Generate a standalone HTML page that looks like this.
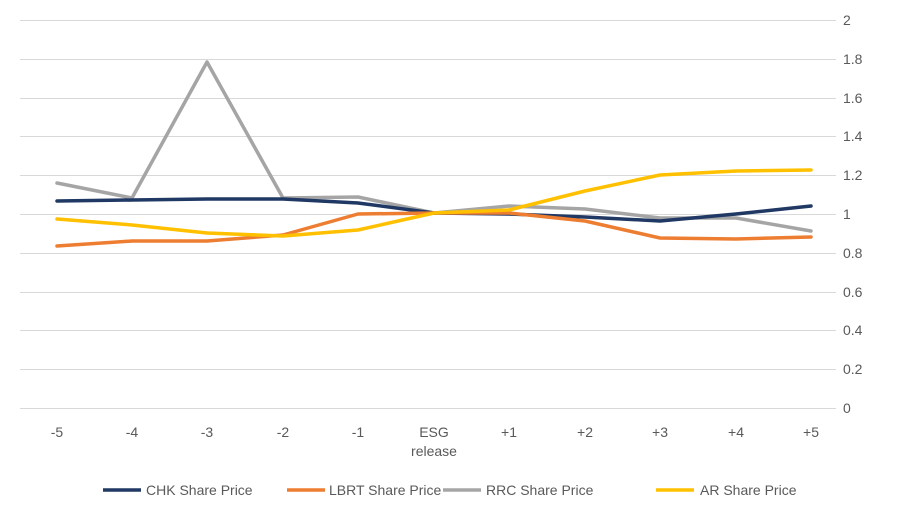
<!DOCTYPE html>
<html><head><meta charset="utf-8"><style>
body{margin:0;background:#fff;}
svg text{font-family:"Liberation Sans",sans-serif;fill:#595959;font-size:14px;}
</style></head><body>
<svg width="899" height="518" xmlns="http://www.w3.org/2000/svg">
<g stroke="#d9d9d9" stroke-width="1">
<line x1="20" x2="836" y1="20.5" y2="20.5"/>
<line x1="20" x2="836" y1="59.5" y2="59.5"/>
<line x1="20" x2="836" y1="98.5" y2="98.5"/>
<line x1="20" x2="836" y1="136.5" y2="136.5"/>
<line x1="20" x2="836" y1="175.5" y2="175.5"/>
<line x1="20" x2="836" y1="214.5" y2="214.5"/>
<line x1="20" x2="836" y1="253.5" y2="253.5"/>
<line x1="20" x2="836" y1="292.5" y2="292.5"/>
<line x1="20" x2="836" y1="330.5" y2="330.5"/>
<line x1="20" x2="836" y1="369.5" y2="369.5"/>
<line x1="20" x2="836" y1="408.5" y2="408.5"/>
</g>
<g text-anchor="start">
<text x="843" y="25">2</text>
<text x="843" y="64">1.8</text>
<text x="843" y="103">1.6</text>
<text x="843" y="141">1.4</text>
<text x="843" y="180">1.2</text>
<text x="843" y="219">1</text>
<text x="843" y="258">0.8</text>
<text x="843" y="297">0.6</text>
<text x="843" y="335">0.4</text>
<text x="843" y="374">0.2</text>
<text x="843" y="413">0</text>
</g>
<g text-anchor="middle">
<text x="57" y="437">-5</text>
<text x="132" y="437">-4</text>
<text x="207" y="437">-3</text>
<text x="283" y="437">-2</text>
<text x="358" y="437">-1</text>
<text x="434" y="437">ESG</text>
<text x="434" y="456">release</text>
<text x="509" y="437">+1</text>
<text x="585" y="437">+2</text>
<text x="660" y="437">+3</text>
<text x="736" y="437">+4</text>
<text x="811" y="437">+5</text>
</g>
<g fill="none" stroke-width="3.5" stroke-linejoin="round" stroke-linecap="round">
<polyline stroke="#A5A5A5" points="57,183 132,198 207,62 283,198 358,197 434,213 509,206 585,209 660,218 736,218 811,231"/>
<polyline stroke="#203864" points="57,201 132,200 207,199 283,199 358,203 434,213 509,214 585,217 660,221 736,214 811,206"/>
<polyline stroke="#ED7D31" points="57,246 132,241 207,241 283,235 358,214 434,213 509,213 585,221 660,238 736,239 811,237"/>
<polyline stroke="#FFC000" points="57,219 132,225 207,233 283,236 358,230 434,213 509,210 585,191 660,175 736,171 811,170"/>
</g>
<g stroke-width="3.5">
<line x1="103" x2="141" y1="490" y2="490" stroke="#203864"/>
<line x1="287" x2="325" y1="490" y2="490" stroke="#ED7D31"/>
<line x1="443" x2="481" y1="490" y2="490" stroke="#A5A5A5"/>
<line x1="656" x2="694" y1="490" y2="490" stroke="#FFC000"/>
</g>
<text x="146" y="495">CHK Share Price</text>
<text x="329" y="495">LBRT Share Price</text>
<text x="486" y="495">RRC Share Price</text>
<text x="700" y="495">AR Share Price</text>
</svg>
</body></html>
